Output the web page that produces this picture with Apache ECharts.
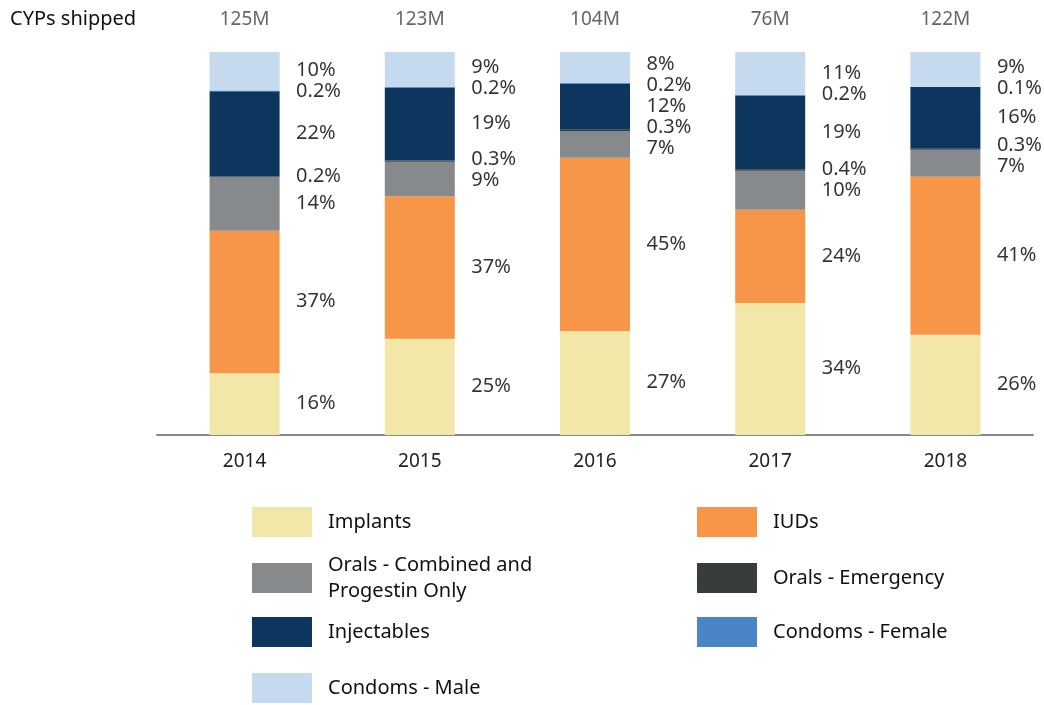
<!DOCTYPE html>
<html>
<head>
<meta charset="utf-8">
<script src="https://cdn.jsdelivr.net/npm/echarts@6/dist/echarts.min.js"></script>
<style>
  html, body { margin: 0; padding: 0; background: #fff; }
  #main { width: 1044px; height: 705px; }
</style>
</head>
<body>
<div id="main"></div>
<script>
// data, bottom of stack first
const years = ['2014', '2015', '2016', '2017', '2018'];
const shipped = ['125M', '123M', '104M', '76M', '122M'];
const methods = ['Implants', 'IUDs', 'Orals - Combined and Progestin Only', 'Orals - Emergency',
    'Injectables', 'Condoms - Female', 'Condoms - Male'];
const colors = ['#f2e7a9', '#f79548', '#878a8c', '#373c3d', '#0d365e', '#4a86c6', '#c5d9ef'];

const implants = [16, 25, 27, 34, 26];
const iuds = [37, 37, 45, 24, 41];
const oralsCombined = [14, 9, 7, 10, 7];
const oralsEmergency = [0.2, 0.3, 0.3, 0.4, 0.3];
const injectables = [22, 19, 12, 19, 16];
const condomsFemale = [0.2, 0.2, 0.2, 0.2, 0.1];
const condomsMale = [10, 9, 8, 11, 9];

const values = [implants, iuds, oralsCombined, oralsEmergency, injectables, condomsFemale, condomsMale];

const font = 'Noto Sans';
const gridTop = 52, gridBottom = 270;
const plotH = 705 - gridTop - gridBottom;
const minGap = 21 / plotH * 100; // min label spacing, in % units

// each column is scaled so the stack fills 100
let totals = years.map((y, j) => values.reduce((s, arr) => s + arr[j], 0));

let series = methods.map((name, i) => ({
    name: name,
    type: 'bar',
    stack: 'all',
    barWidth: 70,
    itemStyle: { color: colors[i] },
    data: values[i].map((v, j) => v / totals[j] * 100)
}));

// label positions: segment middles, pushed apart where they crowd
let labelData = [];
years.forEach((y, j) => {
    let base = 0;
    let pos = values.map(arr => {
        let v = arr[j] / totals[j] * 100;
        let mid = base + v / 2;
        base += v;
        return mid;
    });
    for (let k = 0; k < 60; k++) {
        for (let i = 0; i < pos.length - 1; i++) {
            let d = pos[i + 1] - pos[i];
            if (d < minGap) {
                pos[i] -= (minGap - d) / 2;
                pos[i + 1] += (minGap - d) / 2;
            }
        }
    }
    values.forEach((arr, i) => {
        labelData.push([j, pos[i], arr[j] + '%']);
    });
});

series.push({
    type: 'scatter',
    symbolSize: 1,
    itemStyle: { color: 'transparent' },
    silent: true,
    z: 5,
    label: {
        show: true,
        position: [52, 0],
        align: 'left',
        verticalAlign: 'middle',
        fontFamily: font,
        fontSize: 20,
        color: '#000',
        formatter: p => p.data[2]
    },
    data: labelData
});

// legend layout: two columns
const legendPos = [
    [252, 507], [697, 507],
    [252, 552], [697, 563],
    [252, 617], [697, 617],
    [252, 673]
];

let legends = methods.map((name, k) => ({
    data: [name],
    left: legendPos[k][0],
    top: legendPos[k][1],
    padding: 0,
    itemWidth: 60,
    itemHeight: 30,
    icon: 'rect',
    selectedMode: false,
    formatter: n => n.replace(' and ', ' and\n'),
    textStyle: {
        fontFamily: font,
        fontSize: 20,
        lineHeight: 26,
        color: '#111',
        padding: [0, 0, 0, 11]
    }
}));

let chart = echarts.init(document.getElementById('main'));
chart.setOption({
    animation: false,
    title: {
        text: 'CYPs shipped',
        left: 5,
        top: 4,
        textStyle: { fontFamily: font, fontSize: 20, fontWeight: 'normal', color: '#111' }
    },
    legend: legends,
    grid: { left: 157, right: 11, top: gridTop, bottom: gridBottom },
    xAxis: [{
        type: 'category',
        data: years,
        axisLine: { lineStyle: { color: '#888', width: 2 } },
        axisTick: { show: false },
        axisLabel: { fontFamily: font, fontSize: 19, color: '#222', margin: 17 }
    }, {
        type: 'category',
        position: 'top',
        data: shipped,
        axisLine: { show: false },
        axisTick: { show: false },
        axisLabel: { fontFamily: font, fontSize: 19, color: '#666', margin: 23 }
    }],
    yAxis: {
        type: 'value',
        min: 0,
        max: 100,
        show: false
    },
    series: series
});
</script>
</body>
</html>
